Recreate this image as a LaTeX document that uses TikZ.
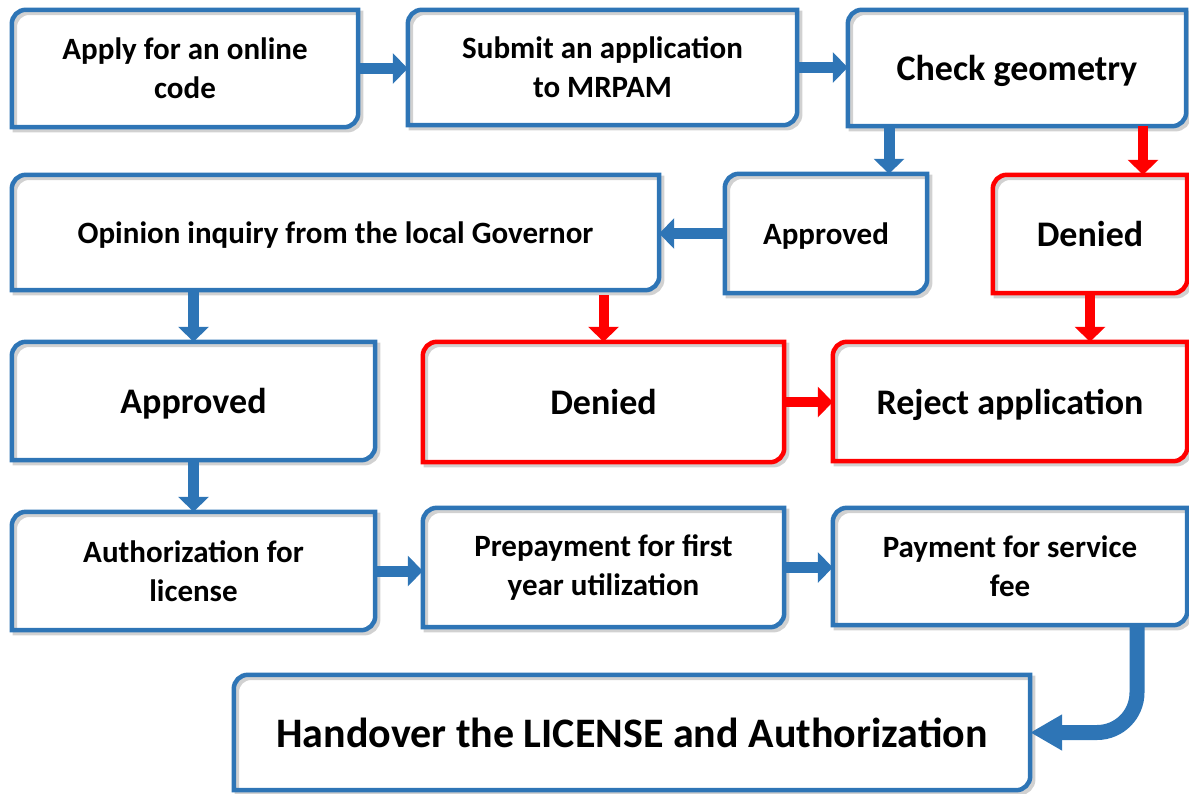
\documentclass[tikz,border=0pt]{standalone}
\usepackage{fontspec}
\setmainfont{Carlito}
\usetikzlibrary{arrows.meta}

\definecolor{flowblue}{RGB}{46,117,182}
\definecolor{flowred}{RGB}{255,0,0}

\tikzset{
  box/.style={inner sep=0pt, align=center, font=\fontsize{31}{39}\selectfont\bfseries},
  oneline/.style={text depth=0pt},
  bigbox/.style={box, oneline, font=\fontsize{36}{43}\selectfont\bfseries},
  goarrow/.style={flowblue, line width=11pt, -{Triangle[width=30pt,length=15pt]}},
  noarrow/.style={goarrow, flowred, line width=10pt}
}

\begin{document}
\begin{tikzpicture}[x=1pt,y=-1pt]
\useasboundingbox (0,0) rectangle (1189,793);

% first row
\node[box, minimum width=346pt, minimum height=117pt] (apply) at (185,68.5) {Apply for an online\\code};
\node[box, minimum width=389pt, minimum height=115pt] (submit) at (602.5,67.5) {Submit an application\\to MRPAM};
\node[bigbox, minimum width=338pt, minimum height=116pt] (check) at (1017,68) {Check geometry};

% second row
\node[box, oneline, minimum width=647pt, minimum height=115pt] (opinion) at (335.5,232.5) {Opinion inquiry from the local Governor};
\node[box, oneline, minimum width=202pt, minimum height=119pt] (approvedA) at (826,233.5) {Approved};
\node[bigbox, minimum width=194pt, minimum height=118pt] (deniedA) at (1090,234) {Denied};

% third row
\node[bigbox, minimum width=363pt, minimum height=118pt] (approvedB) at (193.5,401) {Approved};
\node[bigbox, minimum width=361pt, minimum height=120pt] (deniedB) at (603.5,402) {Denied};
\node[bigbox, minimum width=354pt, minimum height=119pt] (reject) at (1010,401.5) {Reject application};

% fourth row
\node[box, minimum width=363pt, minimum height=118pt] (auth) at (193.5,571) {Authorization for\\license};
\node[box, minimum width=361pt, minimum height=119pt] (prepay) at (603.5,567.5) {Prepayment for first\\year utilization};
\node[box, minimum width=354pt, minimum height=117pt] (payment) at (1010,566.5) {Payment for service\\fee};

% last one
\node[bigbox, font=\fontsize{42}{50}\selectfont\bfseries, minimum width=796pt, minimum height=115pt] (handover) at (632,732.5) {Handover the LICENSE and Authorization};

% frames: round top left and bottom right only
\foreach \n/\c in {apply/flowblue, submit/flowblue, check/flowblue, opinion/flowblue, approvedA/flowblue,
  deniedA/flowred, approvedB/flowblue, deniedB/flowred, reject/flowred, auth/flowblue, prepay/flowblue,
  payment/flowblue, handover/flowblue}{
  \draw[black!18, line width=4.5pt, transform canvas={shift={(3pt,-3pt)}}] (\n.south west) -- ([yshift=-14pt]\n.north west)
    arc[start angle=180, end angle=90, radius=14pt] -- (\n.north east) -- ([yshift=14pt]\n.south east)
    arc[start angle=0, end angle=-90, radius=14pt] -- cycle;
  \draw[\c, line width=4.5pt] (\n.south west) -- ([yshift=-14pt]\n.north west)
    arc[start angle=180, end angle=90, radius=14pt] -- (\n.north east) -- ([yshift=14pt]\n.south east)
    arc[start angle=0, end angle=-90, radius=14pt] -- cycle;
}

% arrows
\draw[goarrow] (apply.east) -- (apply.east -| submit.west);
\draw[goarrow] (submit.east) -- (submit.east -| check.west);
\draw[goarrow] ([xshift=-128pt]check.south) -- ([xshift=-128pt]check.south |- approvedA.north);
\draw[noarrow] ([xshift=126pt]check.south) -- ([xshift=126pt]check.south |- deniedA.north);
\draw[goarrow] (approvedA.west) -- (approvedA.west -| opinion.east);
\draw[goarrow] (approvedB.north |- opinion.south) -- (approvedB.north);
\draw[noarrow, shorten <=5pt] (deniedB.north |- opinion.south) -- (deniedB.north);
\draw[noarrow] (deniedA.south) -- (deniedA.south |- reject.north);
\draw[noarrow] (deniedB.east) -- (deniedB.east -| reject.west);
\draw[goarrow] (approvedB.south) -- (auth.north);
\draw[goarrow] (auth.east) -- (auth.east -| prepay.west);
\draw[goarrow] (prepay.east) -- (prepay.east -| payment.west);
\draw[goarrow, line width=15pt, -{Triangle[width=34pt,length=32pt]}, rounded corners=40pt]
  ([xshift=127pt]payment.south) |- (handover.east);
\end{tikzpicture}
\end{document}
